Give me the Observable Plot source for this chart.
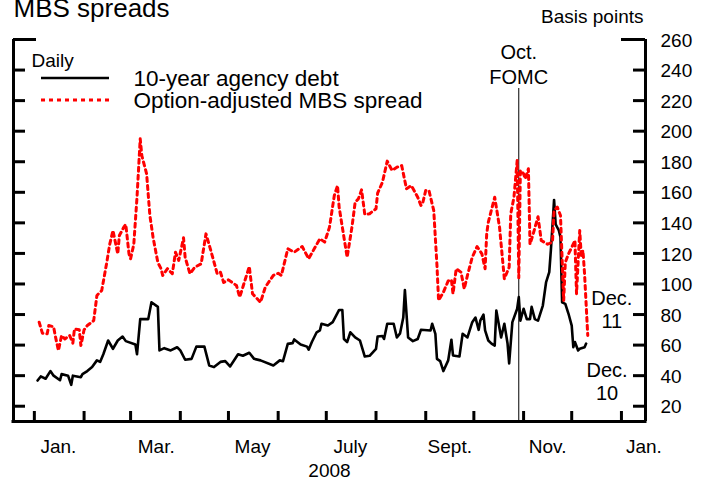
<!DOCTYPE html>
<html><head><meta charset="utf-8">
<script src="https://cdn.jsdelivr.net/npm/d3@7"></script>
<script src="https://cdn.jsdelivr.net/npm/@observablehq/plot@0.6"></script>
<style>
body{margin:0;background:#fff;}
#chart svg{font-family:"Liberation Sans",Arial,Helvetica,sans-serif;}
</style>
</head><body><div id="chart"></div>
<script>
// 10-year agency debt spread (basis points), daily, 2008
const agencyDates = ["2008-01-03","2008-01-05","2008-01-08","2008-01-11","2008-01-13","2008-01-17","2008-01-18","2008-01-22","2008-01-24","2008-01-25","2008-01-30","2008-01-31","2008-02-03","2008-02-06","2008-02-09","2008-02-11","2008-02-13","2008-02-16","2008-02-19","2008-02-22","2008-02-25","2008-02-27","2008-03-04","2008-03-05","2008-03-07","2008-03-12","2008-03-14","2008-03-18","2008-03-19","2008-03-22","2008-03-26","2008-03-30","2008-04-01","2008-04-04","2008-04-08","2008-04-11","2008-04-16","2008-04-19","2008-04-22","2008-04-26","2008-04-29","2008-05-02","2008-05-07","2008-05-10","2008-05-14","2008-05-17","2008-05-21","2008-05-29","2008-06-02","2008-06-04","2008-06-07","2008-06-10","2008-06-11","2008-06-15","2008-06-19","2008-06-20","2008-06-22","2008-06-25","2008-06-27","2008-06-28","2008-07-02","2008-07-05","2008-07-09","2008-07-11","2008-07-12","2008-07-14","2008-07-16","2008-07-19","2008-07-22","2008-07-25","2008-07-28","2008-08-01","2008-08-02","2008-08-05","2008-08-06","2008-08-08","2008-08-12","2008-08-14","2008-08-16","2008-08-18","2008-08-19","2008-08-21","2008-08-24","2008-08-27","2008-08-29","2008-09-04","2008-09-05","2008-09-07","2008-09-08","2008-09-10","2008-09-12","2008-09-15","2008-09-17","2008-09-18","2008-09-22","2008-09-24","2008-09-27","2008-09-30","2008-10-02","2008-10-04","2008-10-05","2008-10-07","2008-10-08","2008-10-10","2008-10-12","2008-10-14","2008-10-15","2008-10-18","2008-10-20","2008-10-22","2008-10-23","2008-10-25","2008-10-28","2008-10-29","2008-10-30","2008-11-01","2008-11-03","2008-11-05","2008-11-06","2008-11-08","2008-11-10","2008-11-13","2008-11-15","2008-11-17","2008-11-18","2008-11-19","2008-11-20","2008-11-21","2008-11-23","2008-11-24","2008-11-25","2008-11-27","2008-11-29","2008-12-01","2008-12-02","2008-12-03","2008-12-05","2008-12-06","2008-12-09","2008-12-10"];
const agencyValues = [36.8,39.5,38,43,40,37,41,40,34,40,39,41,43,45.6,50,49,54,63,57.6,63,65.6,62.6,60.4,54,77,77,88,85,56.5,58,56.5,58.6,56.5,50.4,51,59,59,46.7,45.6,49,49.5,46,54,53,55,51,50,46.7,50,49.5,60.8,61.3,63.7,60.4,59,57,62,68.4,69.6,74,72.8,75,83,83,64,62,68.4,65,63,52.5,53,57.6,65.6,66,64,74,74,65,67.7,78,96,65,62.6,64,70,69.6,74,67.4,51,49.5,43,50,63.5,53.2,52.5,67.4,65,75,78,70,76,80,69.6,63,61,59.7,82.6,65,74,61,48,75,83.8,91.4,76,83.8,77,77,85,77,76,85.9,101,107.7,122,138,155,139,135,130.6,88,87,80.5,72.8,58.6,62,56.5,57.6,58.6,61];

// Option-adjusted MBS spread (basis points), daily, 2008
const mbsDates = ["2008-01-04","2008-01-06","2008-01-09","2008-01-10","2008-01-13","2008-01-14","2008-01-16","2008-01-18","2008-01-20","2008-01-23","2008-01-25","2008-01-26","2008-01-29","2008-01-30","2008-02-01","2008-02-03","2008-02-07","2008-02-09","2008-02-12","2008-02-15","2008-02-17","2008-02-19","2008-02-22","2008-02-23","2008-02-26","2008-02-27","2008-02-29","2008-03-01","2008-03-03","2008-03-05","2008-03-07","2008-03-08","2008-03-11","2008-03-13","2008-03-15","2008-03-18","2008-03-20","2008-03-21","2008-03-24","2008-03-27","2008-03-29","2008-03-31","2008-04-03","2008-04-04","2008-04-07","2008-04-10","2008-04-14","2008-04-17","2008-04-20","2008-04-24","2008-04-26","2008-04-28","2008-05-01","2008-05-06","2008-05-08","2008-05-10","2008-05-14","2008-05-16","2008-05-18","2008-05-21","2008-05-24","2008-05-29","2008-06-01","2008-06-03","2008-06-07","2008-06-11","2008-06-16","2008-06-20","2008-06-24","2008-06-27","2008-06-30","2008-07-03","2008-07-06","2008-07-08","2008-07-09","2008-07-12","2008-07-14","2008-07-17","2008-07-19","2008-07-21","2008-07-23","2008-07-25","2008-07-28","2008-08-01","2008-08-02","2008-08-05","2008-08-08","2008-08-11","2008-08-14","2008-08-17","2008-08-20","2008-08-23","2008-08-27","2008-08-29","2008-08-30","2008-09-01","2008-09-03","2008-09-06","2008-09-08","2008-09-09","2008-09-12","2008-09-15","2008-09-17","2008-09-18","2008-09-20","2008-09-23","2008-09-25","2008-09-27","2008-09-30","2008-10-03","2008-10-06","2008-10-08","2008-10-09","2008-10-10","2008-10-14","2008-10-17","2008-10-20","2008-10-23","2008-10-24","2008-10-26","2008-10-28","2008-10-29","2008-10-30","2008-11-01","2008-11-02","2008-11-04","2008-11-05","2008-11-07","2008-11-10","2008-11-12","2008-11-16","2008-11-19","2008-11-20","2008-11-22","2008-11-24","2008-11-26","2008-11-27","2008-11-29","2008-12-01","2008-12-03","2008-12-04","2008-12-06","2008-12-07","2008-12-08","2008-12-09","2008-12-11"];
const mbsValues = [75,67.8,67.4,72.8,72,66.3,56.5,66.3,64,66.3,61.3,70.6,70,59.7,70,72.8,76,92.5,95.7,113.2,126,135,119.7,131.7,137.6,139,119.7,116.5,126,156.8,195,184,172,145,130.6,114,110,105.6,110,106.7,120.8,115.4,130.2,117.5,106.7,111,113.2,132.8,121.9,106.7,107.7,101,102.7,99,91.4,98,111.4,93.6,91.4,88,98,105.6,107,105.6,123,120.8,124.5,116.5,124,129.6,127.4,137.2,157.9,164.4,150.3,130.6,117.5,137.2,153.5,155.7,161.6,145.5,146,149.2,159.4,166.6,180.4,174.3,176.4,177.5,162.3,164.4,156.8,151.4,152.5,161.2,161.2,148,112,89.2,94.6,102,102.7,93.6,110,107.7,96.8,105.6,117.5,124.5,119.7,110,132.8,140.4,156.8,137.2,103.4,111,146,156.8,180.8,104,174.3,172.1,168.8,175.4,126,132.8,144,128.5,126,127.4,148,150.3,144.8,89.2,114,119.7,124,128.5,93.6,135,117.5,122,106.7,66.3];

const yTicks = [20,40,60,80,100,120,140,160,180,200,220,240,260];
const monthTicks = ["2008-01-01","2008-02-01","2008-03-01","2008-04-01","2008-05-01","2008-06-01","2008-07-01","2008-08-01","2008-09-01","2008-10-01","2008-11-01","2008-12-01","2009-01-01"];
const monthLabels = ["Jan.","Mar.","May","July","Sept.","Nov.","Jan."];
const monthLabelDates = ["2008-01-16","2008-03-17","2008-05-16","2008-07-16","2008-09-16","2008-11-16","2009-01-15"];
const xDomain = ["2007-12-19","2009-01-16"];
const yDomain = [10, 260];
const fomcDate = "2008-10-29";
const annotations = [
  {date: "2008-12-26", value: 71, text: "Dec.\n11"},
  {date: "2008-12-23", value: 24, text: "Dec.\n10"}
];
const seriesNames = ["10-year agency debt", "Option-adjusted MBS spread"];

const P = d => new Date(d + "T00:00:00Z");
const agency = agencyDates.map((d, i) => ({date: P(d), value: agencyValues[i]}));
const mbs = mbsDates.map((d, i) => ({date: P(d), value: mbsValues[i]}));

const W = 711, H = 483, mT = 39, mB = 62, mL = 13, mR = 66;
const plotW = W - mL - mR, plotH = H - mT - mB;
const AX = 3;
const RED_DASH = "4,4";

const chart = Plot.plot({
  width: W, height: H,
  marginTop: mT, marginBottom: mB, marginLeft: mL, marginRight: mR,
  style: {fontFamily: '"Liberation Sans", Arial, sans-serif', fontSize: "19px", background: "#fff", overflow: "visible"},
  x: {type: "utc", domain: xDomain.map(P), axis: null},
  y: {domain: yDomain, axis: null},
  marks: [
    // axis frame (left, right, bottom)
    Plot.ruleX([P(xDomain[0]), P(xDomain[1])], {x: d => d, stroke: "black", strokeWidth: AX}),
    Plot.ruleY([yDomain[0]], {y: d => d, stroke: "black", strokeWidth: AX, strokeLinecap: "square"}),
    // y ticks, inward on both sides
    Plot.ruleY(yTicks, {y: d => d, insetRight: plotW - 12, stroke: "black", strokeWidth: AX}),
    Plot.ruleY(yTicks, {y: d => d, insetLeft: plotW - 12, stroke: "black", strokeWidth: AX}),
    Plot.ruleY(yTicks.slice(-1), {y: d => d, insetRight: plotW - 23, stroke: "black", strokeWidth: AX}),
    Plot.ruleY(yTicks.slice(-1), {y: d => d, insetLeft: plotW - 24, stroke: "black", strokeWidth: AX}),
    // month ticks pointing up
    Plot.ruleX(monthTicks, {x: d => P(d), insetTop: plotH - 10, stroke: "black", strokeWidth: AX}),
    // FOMC rule
    Plot.ruleX([fomcDate], {x: d => P(d), insetTop: 49, stroke: "black", strokeWidth: 1}),
    // series
    Plot.line(agency, {x: "date", y: "value", stroke: "black", strokeWidth: 2.6, strokeLinejoin: "round"}),
    Plot.line(mbs, {x: "date", y: "value", stroke: "#ff0000", strokeWidth: 3, strokeDasharray: RED_DASH}),
    // right tick labels
    Plot.text(yTicks, {y: d => d, text: d => String(d), frameAnchor: "right", textAnchor: "start", dx: 15, dy: 1, fontSize: 19}),
    // month labels
    Plot.text(monthLabelDates, {x: d => P(d), text: (d, i) => monthLabels[i], frameAnchor: "bottom", lineAnchor: "bottom", dy: 31, fontSize: 19}),
    Plot.text(["2008"], {text: d => d, frameAnchor: "bottom", lineAnchor: "bottom", dy: 55, fontSize: 19}),
    // FOMC label
    Plot.text(["Oct.\nFOMC"], {x: () => P(fomcDate), text: d => d, frameAnchor: "top", lineAnchor: "bottom", dy: 44, fontSize: 20, lineHeight: 1.25}),
    // Dec annotations
    Plot.text(annotations, {x: d => P(d.date), y: "value", text: "text", lineAnchor: "bottom", fontSize: 20, lineHeight: 1.15}),
    // titles
    Plot.text(["MBS spreads"], {text: d => d, frameAnchor: "top-left", textAnchor: "start", lineAnchor: "bottom", dy: -23, fontSize: 26}),
    Plot.text(["Basis points"], {text: d => d, frameAnchor: "top-right", textAnchor: "end", lineAnchor: "bottom", dx: -2, dy: -17, fontSize: 19}),
    // legend text
    Plot.text(["Daily"], {text: d => d, frameAnchor: "top-left", textAnchor: "start", lineAnchor: "bottom", dx: 18, dy: 27, fontSize: 19}),
    Plot.text(seriesNames.slice(0, 1), {text: d => d, frameAnchor: "top-left", textAnchor: "start", lineAnchor: "bottom", dx: 120, dy: 46, fontSize: 22.5}),
    Plot.text(seriesNames.slice(1), {text: d => d, frameAnchor: "top-left", textAnchor: "start", lineAnchor: "bottom", dx: 120, dy: 68, fontSize: 22.5})
  ]
});

// legend sample lines
const svg = d3.select(chart);
const legendRows = [{y: 78, stroke: "black", dash: null, w: 2.6}, {y: 100, stroke: "#ff0000", dash: RED_DASH, w: 3}];
const lg = svg.append("g");
legendRows.forEach(r => {
  lg.append("line").attr("x1", 41).attr("x2", 109).attr("y1", r.y).attr("y2", r.y)
    .attr("stroke", r.stroke).attr("stroke-width", r.w).attr("stroke-dasharray", r.dash);
});
document.getElementById("chart").appendChild(chart);
</script>
</body></html>
